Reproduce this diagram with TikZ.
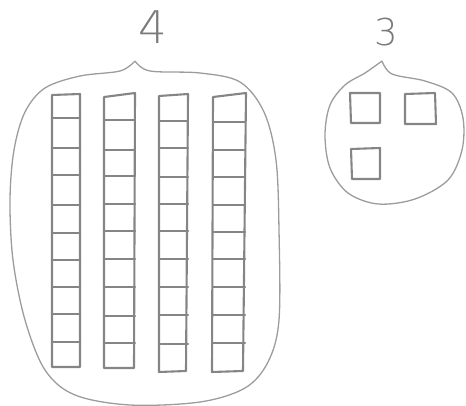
\documentclass[tikz,border=0pt]{standalone}
\usepackage{fontspec}
\newfontfamily\numfont{DejaVu Sans ExtraLight}
\definecolor{pencil}{HTML}{858585}
\definecolor{outl}{HTML}{9C9C9C}
\definecolor{digit}{HTML}{7A7A7A}
\begin{document}
\begin{tikzpicture}[x=1pt,y=-1pt,
  sq/.style={draw=pencil,line width=2.1pt,line join=round,line cap=round},
  blob/.style={draw=outl,line width=1.3pt,line join=round},
  digitlabel/.style={text=digit,inner sep=0pt,font=\numfont}]
\useasboundingbox (0,0) rectangle (466,406);
% labels
\node[digitlabel,font=\numfont\fontsize{45}{45}\selectfont] (four) at (153,27) {4};
\node[digitlabel,font=\numfont\fontsize{37}{37}\selectfont] (three) at (386,32) {3};
% big outline
\draw[blob] plot[smooth,tension=0.55] coordinates {(135,61) (150,71) (200,73) (240,82) (264,112) (276,160) (279,230) (279,320) (268,362) (245,388) (200,402) (130,405) (75,395) (45,370) (25,320) (13,260) (10,200) (14,150) (25,112) (45,88) (80,76) (120,71) (135,61)};
% small outline
\draw[blob] plot[smooth,tension=0.55] coordinates {(382,61) (392,74) (425,81) (452,93) (463,118) (462,150) (448,180) (415,199) (378,204) (348,193) (330,168) (325,135) (330,105) (345,85) (365,73) (382,61)};
% columns
\draw[sq] (52,95) -- (80,94) -- (80,367) -- (52,367) -- cycle;
\foreach \y in {118,148,175,205,233,260,287,314,342} \draw[sq] (52,\y) -- (80,\y);
\draw[sq] (104,97) -- (135,93) -- (134,368) -- (104,368) -- cycle;
\foreach \y in {120,150,176,204,231,259,287,316,343} \draw[sq] (104,\y) -- (135,\y);
\draw[sq] (159,96) -- (188,94) -- (186,371) -- (159,372) -- cycle;
\foreach \y in {121,148,177,204,231,259,287,315,344} \draw[sq] (159,\y) -- (188,\y);
\draw[sq] (213,97) -- (246,93) -- (243,371) -- (212,372) -- cycle;
\foreach \y in {122,150,177,205,232,259,287,315,343} \draw[sq] (213,\y) -- (245,\y);
% small squares
\draw[sq] (350,93) -- (380,93) -- (380,123) -- (351,123) -- cycle;
\draw[sq] (405,94) -- (435,93) -- (436,124) -- (405,124) -- cycle;
\draw[sq] (351,149) -- (380,148) -- (380,179) -- (352,179) -- cycle;
\end{tikzpicture}
\end{document}
